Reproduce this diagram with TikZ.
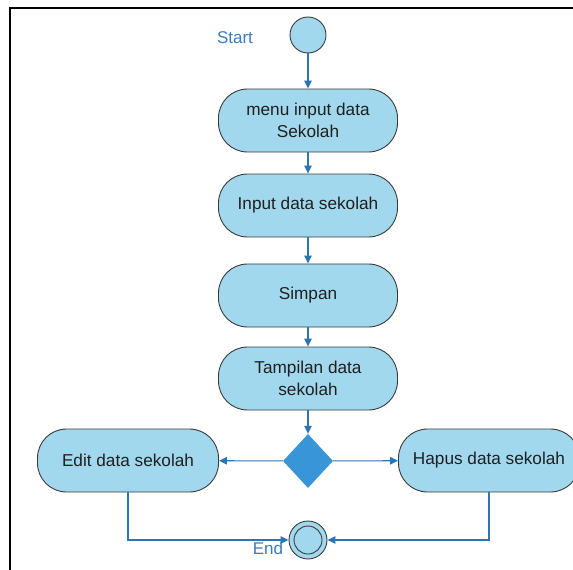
\documentclass[tikz,border=0pt]{standalone}
\usepackage{fontspec}
\setmainfont{Liberation Sans}
\usetikzlibrary{shapes.geometric,arrows.meta}
\definecolor{actfill}{HTML}{A2D8EE}
\definecolor{diafill}{HTML}{3896D8}
\definecolor{linecol}{HTML}{2E74B5}
\definecolor{labcol}{HTML}{3A7CC0}
\definecolor{edgecol}{HTML}{3A3A3A}
\tikzset{
  act/.style={draw=edgecol, line width=0.9pt, fill=actfill, rounded corners=29pt,
    minimum height=63pt, inner sep=0pt, align=center, font=\fontsize{17.2}{22.5}\selectfont, text=black!88},
  flow/.style={draw=linecol, line width=1.1pt, -{Triangle[length=8pt,width=7.5pt]}},
  lab/.style={text=labcol, font=\fontsize{17}{20}\selectfont},
}
\begin{document}
\begin{tikzpicture}[x=1pt,y=-1pt]
\useasboundingbox (0,0) rectangle (573,570);
\fill[white] (0,0) rectangle (573,570);
\draw[black, line width=2pt] (10,580) -- (10,8) -- (590,8);
\node[circle, draw=edgecol, line width=0.9pt, fill=actfill, minimum size=36pt, inner sep=0pt] (start) at (308,35) {};
\node[lab] (startlab) at (235,38) {Start};
\node[act, minimum width=179pt] (b1) at (308,120.5) {menu input data\\Sekolah};
\node[act, minimum width=179pt] (b2) at (308,205.5) {Input data sekolah};
\node[act, minimum width=179pt] (b3) at (308,295.5) {Simpan};
\node[act, minimum width=179pt] (b4) at (308,378.5) {Tampilan data\\sekolah};
\node[diamond, fill=diafill, minimum width=50pt, minimum height=54pt, inner sep=0pt] (dec) at (308,461) {};
\node[act, minimum width=181pt] (edit) at (128,460.5) {Edit data sekolah};
\node[act, minimum width=181pt] (hapus) at (489,460.5) {Hapus data sekolah};
\node[circle, draw=edgecol, line width=0.9pt, fill=actfill, minimum size=38pt, inner sep=0pt] (final) at (308,540) {};
\draw[edgecol, line width=0.9pt, fill=actfill] (final) circle[radius=14pt];
\node[lab] (endlab) at (268,548) {End};
\draw[flow] (start) -- (b1);
\draw[flow] (b1) -- (b2);
\draw[flow] (b2) -- (b3);
\draw[flow] (b3) -- (b4);
\draw[flow] (b4) -- (dec);
\draw[flow] (dec) -- (edit);
\draw[flow] (dec) -- (hapus);
\draw[flow] (edit.south) |- (final);
\draw[flow] (hapus.south) |- (final);
\end{tikzpicture}
\end{document}
